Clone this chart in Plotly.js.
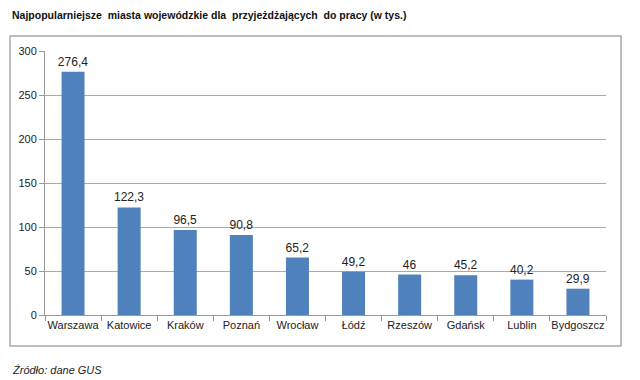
<!DOCTYPE html>
<html><head><meta charset="utf-8">
<script src="https://cdn.plot.ly/plotly-3.0.1.min.js"></script>
<style>html,body{margin:0;padding:0;background:#fff}#c{width:640px;height:380px}</style>
</head><body><div id="c"></div>
<script>
const cities = ["Warszawa","Katowice","Kraków","Poznań","Wrocław","Łódź","Rzeszów","Gdańsk","Lublin","Bydgoszcz"];
const values = [276.4,122.3,96.5,90.8,65.2,49.2,46,45.2,40.2,29.9];
const labels = ["276,4","122,3","96,5","90,8","65,2","49,2","46","45,2","40,2","29,9"];
const yTicks = [0,50,100,150,200,250,300];
const titleText = "Najpopularniejsze  miasta wojewódzkie dla  przyjeżdżających  do pracy (w tys.)";
const sourceText = "Źródło: dane GUS";

const W=640,H=380,ml=45,mr=34,mt=51,mb=65;
const pw=W-ml-mr, ph=H-mt-mb;
const px=x=>(x-ml)/pw, py=y=>(H-mb-y)/ph;

Plotly.newPlot('c',[{
  type:'bar', x:cities, y:values, text:labels, textposition:'outside',
  constraintext:'none', cliponaxis:false, marker:{color:'#4f81bd'},
  textfont:{family:'Liberation Sans, Arial, sans-serif', size:12, color:'#222'},
  hoverinfo:'none'
}],{
  width:W,height:H,margin:{l:ml,r:mr,t:mt,b:mb},
  paper_bgcolor:'#fff',plot_bgcolor:'#fff',bargap:0.59,showlegend:false,
  font:{family:'Liberation Sans, Arial, sans-serif',size:11,color:'#222'},
  title:{text:'<b>'+titleText.replace(/  /g,' &nbsp;')+'</b>',xref:'container',yref:'container',x:12/W,xanchor:'left',y:1-15/H,yanchor:'middle',font:{size:10.5,color:'#111'}},
  xaxis:{type:'category',tickangle:0,showline:true,linecolor:'#999',linewidth:1,ticks:'outside',tickson:'boundaries',ticklen:5,tickcolor:'#999',showgrid:false,tickfont:{size:11,color:'#222'}},
  yaxis:{range:[0,300],tickvals:yTicks,showline:true,linecolor:'#999',ticks:'outside',ticklen:5,tickcolor:'#999',gridcolor:'#aaa',gridwidth:1,zeroline:false,tickfont:{size:11,color:'#222'}},
  shapes:[{type:'rect',xref:'paper',yref:'paper',x0:px(10),x1:px(621),y0:py(346),y1:py(36),line:{color:'#aaa',width:1.5},layer:'below'}],
  annotations:[{text:'<i>'+sourceText+'</i>',xref:'paper',yref:'paper',x:px(10),y:py(370),xanchor:'left',yanchor:'middle',showarrow:false,font:{size:11,color:'#222'}}]
},{displayModeBar:false,staticPlot:true});
</script></body></html>
